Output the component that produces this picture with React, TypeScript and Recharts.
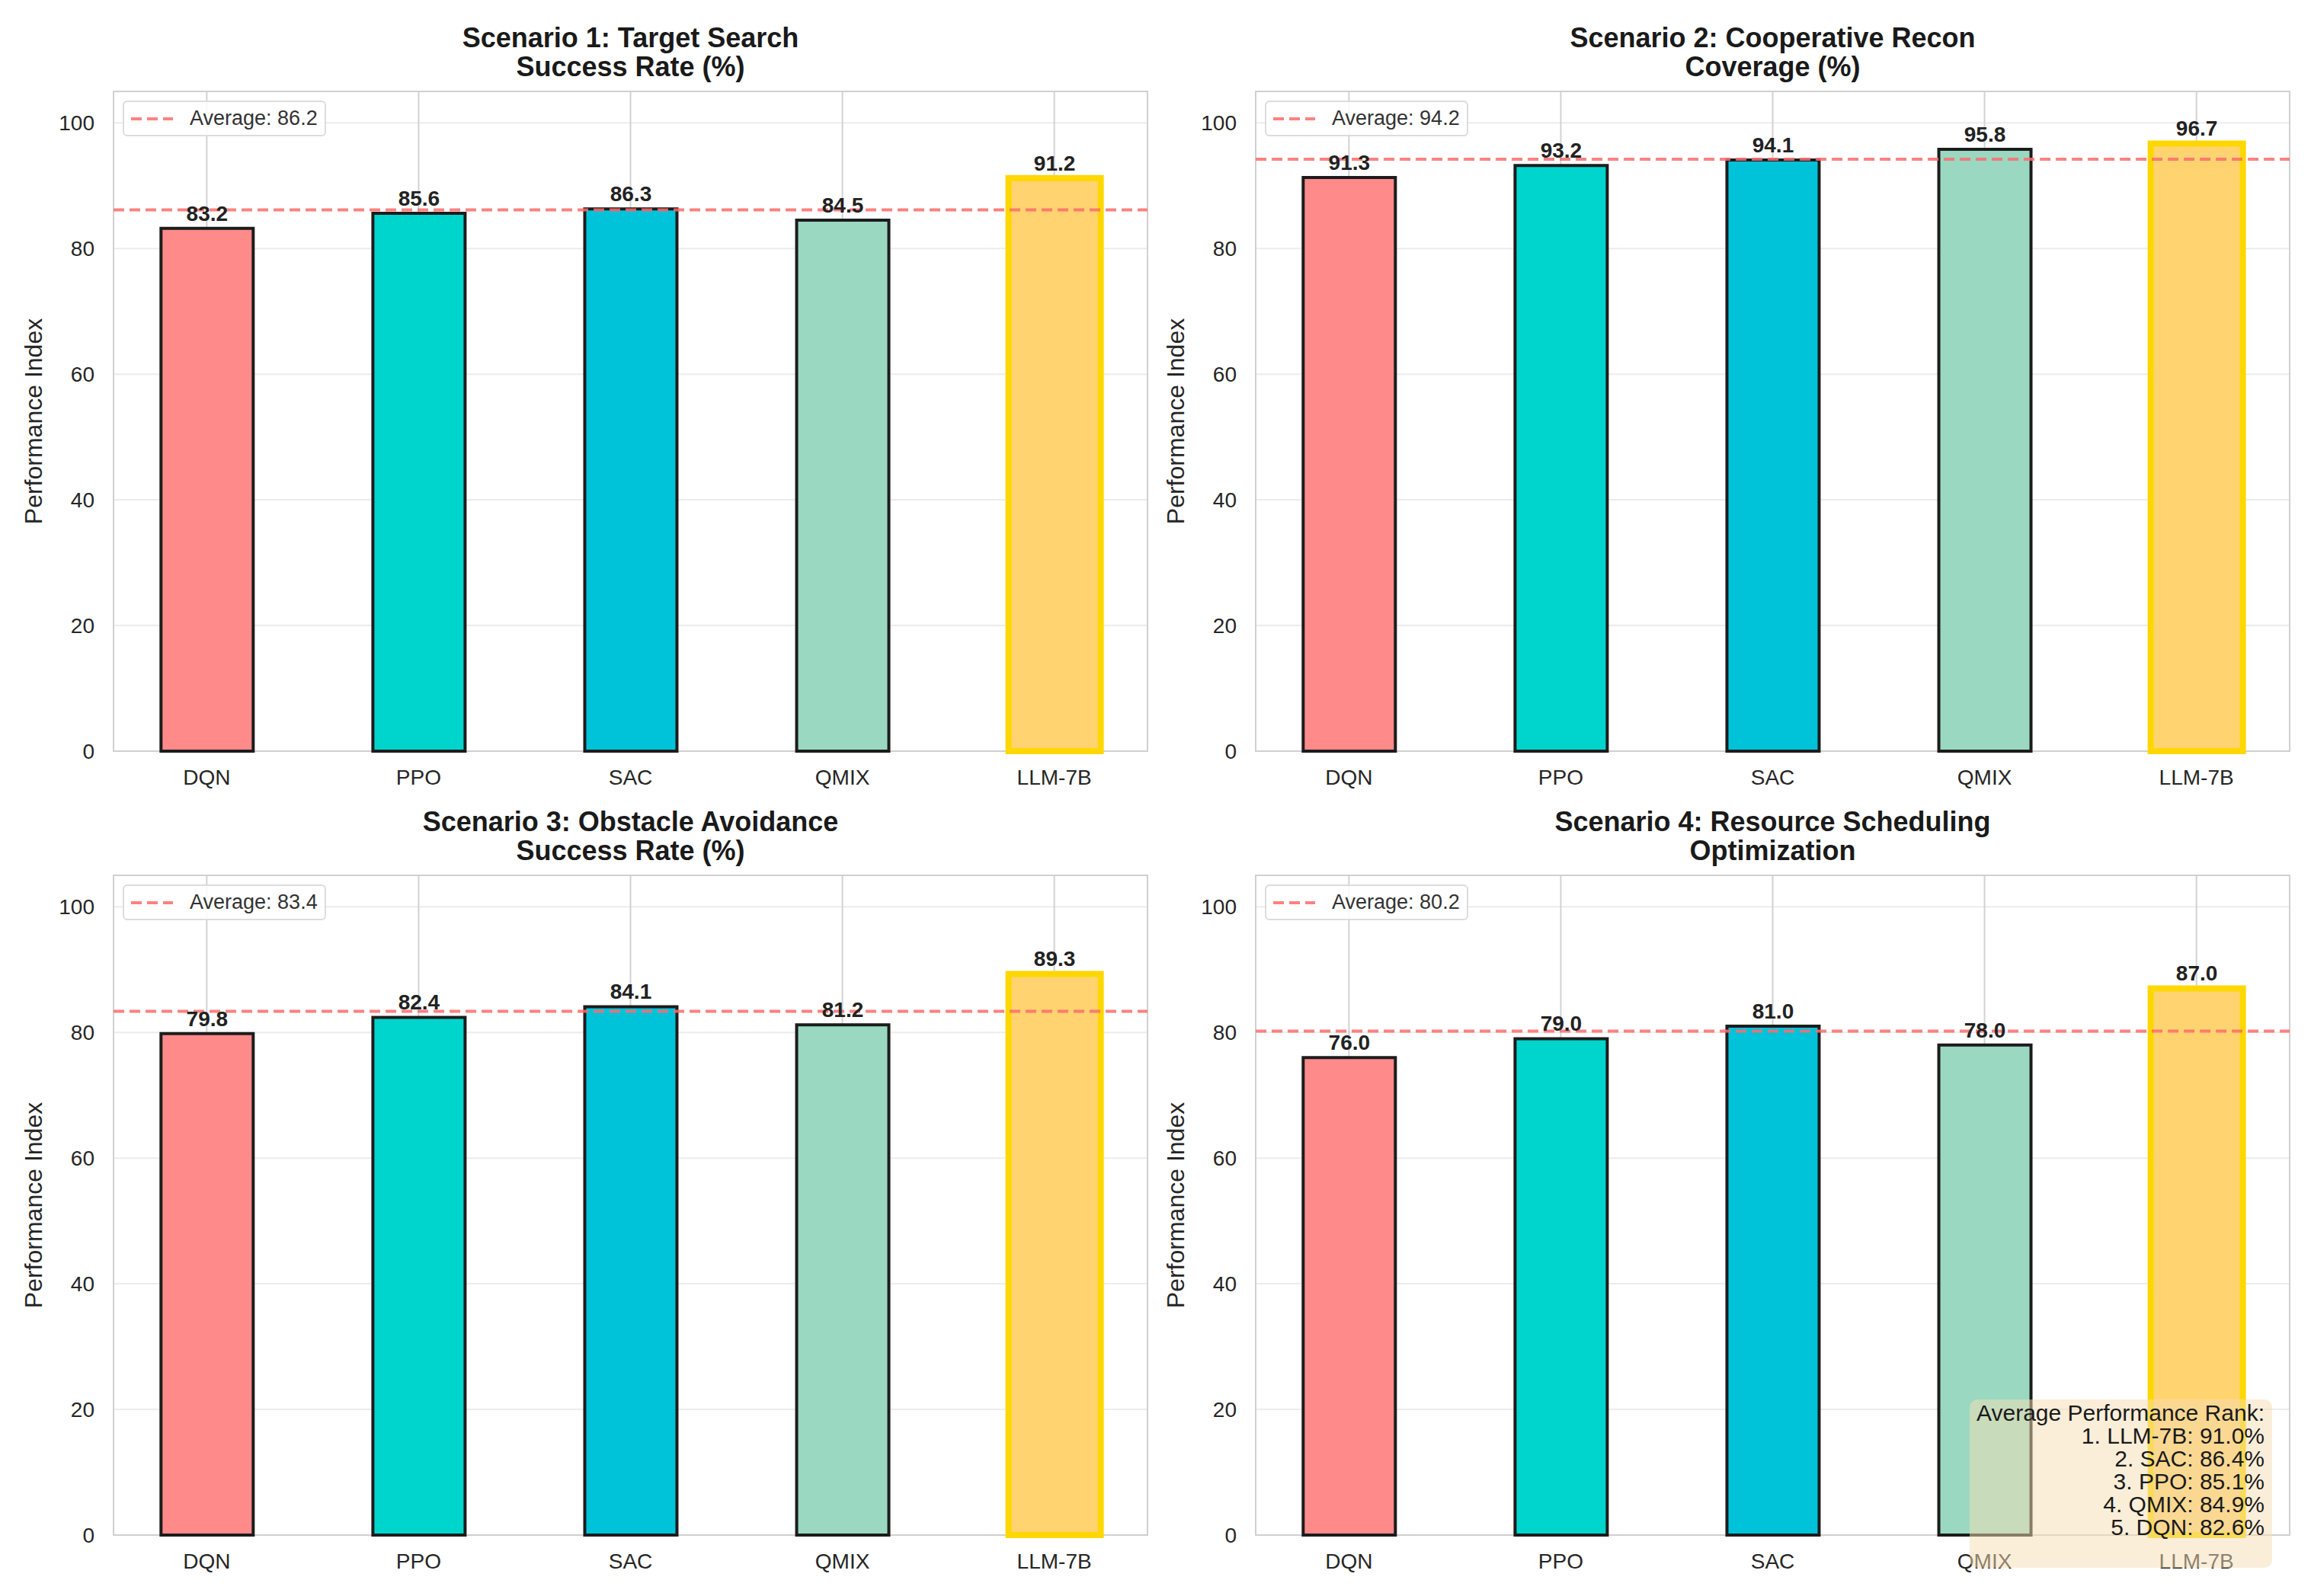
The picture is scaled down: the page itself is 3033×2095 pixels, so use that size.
import React from "react";
import {
  BarChart,
  Bar,
  Cell,
  XAxis,
  YAxis,
  CartesianGrid,
  ReferenceLine,
  ReferenceArea,
  LabelList,
} from "recharts";

const methods = ["DQN", "PPO", "SAC", "QMIX", "LLM-7B"];
const targetSearch = [83.2, 85.6, 86.3, 84.5, 91.2];
const coopRecon = [91.3, 93.2, 94.1, 95.8, 96.7];
const obstacleAvoid = [79.8, 82.4, 84.1, 81.2, 89.3];
const resourceSched = [76.0, 79.0, 81.0, 78.0, 87.0];
const yTicks = [0, 20, 40, 60, 80, 100];
const rankNames = ["LLM-7B", "SAC", "PPO", "QMIX", "DQN"];
const rankScores = [91.0, 86.4, 85.1, 84.9, 82.6];

const fills = ["#FF8A8A", "#00D5CD", "#00C3DA", "#9AD8C2", "#FFD370"];
const FONT = '"Liberation Sans", Arial, Helvetica, sans-serif';

const X_MIN = -0.44;
const X_MAX = 4.44;
const Y_MAX = 105;
const PLOT_W = 1357;
const PLOT_H = 866;
const AXIS_W = 150;
const TOP_M = 10;
const RIGHT_M = 20;
const XAXIS_H = 70;

const mean = (a: number[]) => a.reduce((s, v) => s + v, 0) / a.length;

const YLabel = (props: any) => {
  const vb = props.viewBox || { x: 0, y: TOP_M, width: AXIS_W, height: PLOT_H };
  const cx = vb.x + vb.width - 105;
  const cy = vb.y + vb.height / 2;
  return (
    <text
      x={cx}
      y={cy}
      transform={`rotate(-90 ${cx} ${cy})`}
      textAnchor="middle"
      dominantBaseline="central"
      fontSize={32}
      fontFamily={FONT}
      fill="#262626"
    >
      Performance Index
    </text>
  );
};

type PanelProps = {
  left: number;
  top: number;
  title: string[];
  values: number[];
};

function Panel({ left, top, title, values }: PanelProps) {
  const rows = methods.map((m, i) => ({ x: i, name: m, v: values[i] }));
  const avg = mean(values);
  const barW = Math.round((PLOT_W / (X_MAX - X_MIN)) * 0.435);

  return (
    <>
      <div
        style={{
          position: "absolute",
          left,
          top: top - 89,
          width: PLOT_W,
          textAlign: "center",
          fontFamily: FONT,
          fontWeight: "bold",
          fontSize: 36,
          lineHeight: "38px",
          color: "#1a1a1a",
        }}
      >
        {title[0]}
        <br />
        {title[1]}
      </div>
      <div style={{ position: "absolute", left: left - AXIS_W, top: top - TOP_M }}>
        <BarChart
          width={AXIS_W + PLOT_W + RIGHT_M}
          height={TOP_M + PLOT_H + XAXIS_H}
          data={rows}
          margin={{ top: TOP_M, right: RIGHT_M, left: 0, bottom: 0 }}
        >
          <CartesianGrid vertical={false} stroke="#ececec" strokeWidth={2} />
          <CartesianGrid horizontal={false} stroke="#d2d2d2" strokeWidth={2} />
          <ReferenceArea
            x1={X_MIN}
            x2={X_MAX}
            y1={0}
            y2={Y_MAX}
            fill="none"
            stroke="#d0d0d0"
            strokeWidth={2}
          />
          <XAxis
            type="number"
            dataKey="x"
            scale="linear"
            domain={[X_MIN, X_MAX]}
            ticks={[0, 1, 2, 3, 4]}
            interval={0}
            tickFormatter={(v: number) => methods[v] ?? ""}
            axisLine={false}
            tickLine={false}
            tickSize={0}
            tickMargin={24}
            height={XAXIS_H}
            tick={{ fontSize: 28, fill: "#262626", fontFamily: FONT }}
          />
          <YAxis
            type="number"
            domain={[0, Y_MAX]}
            ticks={yTicks}
            interval={0}
            axisLine={false}
            tickLine={false}
            tickSize={0}
            tickMargin={25}
            width={AXIS_W}
            tick={{ fontSize: 28, fill: "#262626", fontFamily: FONT }}
            label={YLabel}
          />
          <Bar dataKey="v" barSize={barW} isAnimationActive={false}>
            {rows.map((r, i) => (
              <Cell
                key={r.name}
                fill={fills[i]}
                stroke={i === 4 ? "#FFD700" : "#1c1c1c"}
                strokeWidth={i === 4 ? 8 : 4}
              />
            ))}
            <LabelList
              dataKey="v"
              position="top"
              offset={10}
              formatter={(v: any) => Number(v).toFixed(1)}
              style={{
                fontSize: 28,
                fontWeight: "bold",
                fill: "#222222",
                fontFamily: FONT,
              }}
            />
          </Bar>
          <ReferenceLine
            y={avg}
            stroke="#FF6B6B"
            strokeOpacity={0.85}
            strokeWidth={4}
            strokeDasharray="14 7"
          />
        </BarChart>
      </div>
      <div
        style={{
          position: "absolute",
          left: left + 12,
          top: top + 12,
          width: 267,
          height: 47,
          boxSizing: "border-box",
          border: "2px solid #dcdcdc",
          borderRadius: 6,
          background: "rgba(255,255,255,0.85)",
          fontFamily: FONT,
          fontSize: 27,
          color: "#333333",
          display: "flex",
          alignItems: "center",
        }}
      >
        <svg width={86} height={20} style={{ flex: "none" }}>
          <line
            x1={9}
            y1={10}
            x2={64}
            y2={10}
            stroke="#FF6B6B"
            strokeOpacity={0.85}
            strokeWidth={4}
            strokeDasharray="14 7"
          />
        </svg>
        <span>Average: {avg.toFixed(1)}</span>
      </div>
    </>
  );
}

export default function App() {
  const cols = [149, 1648];
  const rowsY = [120, 1149];
  return (
    <div
      style={{
        position: "relative",
        width: 3033,
        height: 2095,
        background: "#ffffff",
        overflow: "hidden",
      }}
    >
      <style>{"body{margin:0;}"}</style>
      <Panel
        left={cols[0]}
        top={rowsY[0]}
        title={["Scenario 1: Target Search", "Success Rate (%)"]}
        values={targetSearch}
      />
      <Panel
        left={cols[1]}
        top={rowsY[0]}
        title={["Scenario 2: Cooperative Recon", "Coverage (%)"]}
        values={coopRecon}
      />
      <Panel
        left={cols[0]}
        top={rowsY[1]}
        title={["Scenario 3: Obstacle Avoidance", "Success Rate (%)"]}
        values={obstacleAvoid}
      />
      <Panel
        left={cols[1]}
        top={rowsY[1]}
        title={["Scenario 4: Resource Scheduling", "Optimization"]}
        values={resourceSched}
      />
      <div
        style={{
          position: "absolute",
          left: 2585,
          top: 1837,
          width: 397,
          height: 221,
          boxSizing: "border-box",
          padding: "3px 10px 0 0",
          background: "rgba(245,222,179,0.5)",
          borderRadius: 10,
          textAlign: "right",
          fontFamily: FONT,
          fontSize: 30,
          lineHeight: "30px",
          color: "#1a1a1a",
        }}
      >
        Average Performance Rank:
        {rankNames.map((n, i) => (
          <div key={n}>
            {i + 1}. {n}: {rankScores[i].toFixed(1)}%
          </div>
        ))}
      </div>
    </div>
  );
}
